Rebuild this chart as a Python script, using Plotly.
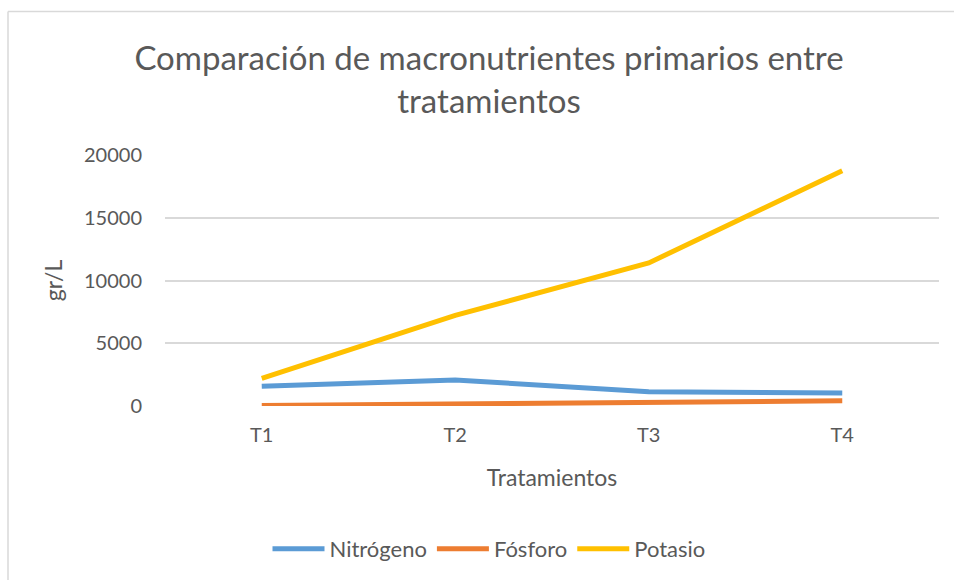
import plotly.graph_objects as go

categories = ["T1", "T2", "T3", "T4"]
nitrogeno = [1570, 2080, 1130, 1040]
fosforo = [30, 150, 290, 420]
potasio = [2200, 7220, 11400, 18750]
y_ticks = [0, 5000, 10000, 15000, 20000]

W, H = 954, 580
L, R, T, B = 165, 15, 155, 173
pw, ph = W - L - R, H - T - B

def px_x(p):
    return (p - L) / pw

def px_y(p):
    return (H - B - p) / ph

FONT = "Lato, 'Open Sans', sans-serif"
GREY = "#595959"

fig = go.Figure()
for name, vals, color in [("Nitrógeno", nitrogeno, "#5B9BD5"),
                          ("Fósforo", fosforo, "#ED7D31"),
                          ("Potasio", potasio, "#FFC000")]:
    fig.add_trace(go.Scatter(x=categories, y=vals, mode="lines", name=name,
                             line=dict(color=color, width=5)))

fig.update_layout(
    width=W, height=H,
    margin=dict(l=L, r=R, t=T, b=B),
    paper_bgcolor="white", plot_bgcolor="white",
    font=dict(family=FONT, color=GREY),
    title=dict(text="Comparación de macronutrientes primarios entre<br>tratamientos",
               x=489 / W, xanchor="center",
               y=1 - 70 / H, yanchor="middle",
               font=dict(size=33, color=GREY, family=FONT)),
    xaxis=dict(range=[-0.5, 3.5], showgrid=False, showline=False, zeroline=False,
               ticks="", tickfont=dict(size=20, color=GREY), ticklabelstandoff=15,
               title=dict(text="Tratamientos", font=dict(size=23, color=GREY), standoff=24)),
    yaxis=dict(range=[0, 20000], tickvals=y_ticks, ticktext=[str(v) for v in y_ticks],
               showgrid=True, gridcolor="#D9D9D9", gridwidth=1.5, zeroline=False,
               showline=False, ticks="", ticklabelstandoff=22,
               tickfont=dict(size=20, color=GREY),
               title=dict(text="gr/L", font=dict(size=23, color=GREY), standoff=14)),
    legend=dict(orientation="h", x=px_x(489), xanchor="center",
                y=px_y(549), yanchor="middle",
                font=dict(size=22, color=GREY), itemwidth=52, traceorder="normal"),
    showlegend=True,
)

# chart-area border (Excel style), extending past the right/bottom edges
fig.add_shape(type="line", xref="paper", yref="paper",
              x0=px_x(8), x1=px_x(8), y0=px_y(11), y1=px_y(700),
              line=dict(color="#D9D9D9", width=1.5))
fig.add_shape(type="line", xref="paper", yref="paper",
              x0=px_x(8), x1=px_x(1100), y0=px_y(11), y1=px_y(11),
              line=dict(color="#D9D9D9", width=1.5))

fig.write_html("out.html", config={"displayModeBar": False},
               post_script="document.body.style.margin='0';")
